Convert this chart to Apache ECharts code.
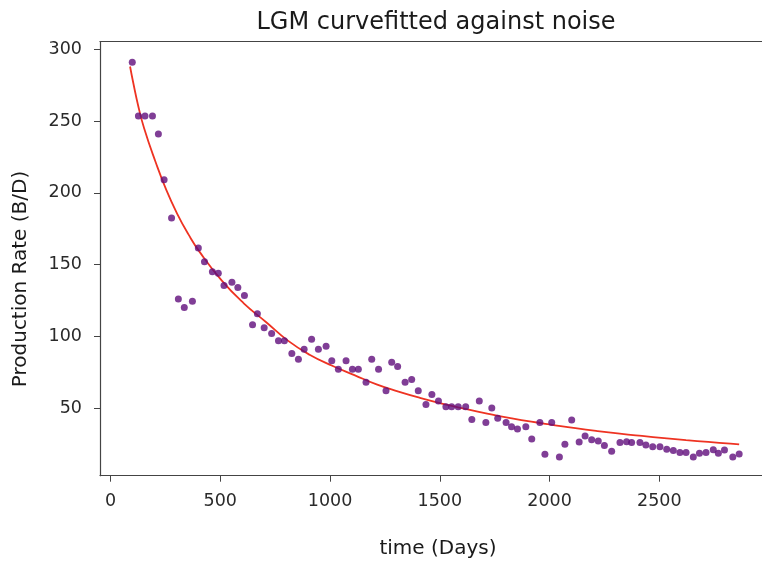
<!DOCTYPE html>
<html>
<head>
<meta charset="utf-8">
<script src="https://cdn.jsdelivr.net/npm/echarts@6/dist/echarts.min.js"></script>
<style>
html,body{margin:0;padding:0;background:#fff;}
#c{width:762px;height:567px;}
</style>
</head>
<body>
<div id="c"></div>
<script>
// Observed noisy production data
const days = [99,127,157,191,218,244,278,309,336,373,400,428,464,491,517,553,580,610,647,669,700,734,765,792,826,856,882,916,947,982,1008,1038,1073,1102,1129,1164,1190,1221,1255,1281,1308,1342,1372,1402,1437,1464,1494,1528,1554,1584,1618,1646,1680,1710,1737,1764,1802,1827,1854,1892,1919,1956,1979,2010,2045,2070,2101,2135,2162,2192,2222,2250,2283,2321,2351,2374,2412,2439,2470,2503,2534,2564,2594,2622,2655,2683,2713,2746,2769,2797,2835,2864];
const rates = [291,253.5,253.5,253.5,241,209,182.5,126,120,124.5,161.6,152,145,144,135.4,137.7,134,128.5,108,115.7,106,102,97,97,88,84,91,98,91,93,83,77,83,77,77,68,84,77,62,82,79,68,70,62,52.5,59.5,55,51,51,51,51,42,55,40,50,43,40,37,35.4,37,28.5,40,17.8,40,16,24.8,41.7,26.3,30.5,28,27,24,20,26,26.6,26,26,24.3,23,23,21.3,20.4,19,19,16,18.5,19,21,18.5,20.8,16,18];

// LGM fitted curve
const fitDays = [89,103,127,153,204,254,305,355,405,506,607,708,808,909,1010,1111,1212,1312,1413,1514,1615,1716,1816,1917,2018,2118,2219,2320,2421,2522,2622,2723,2824,2864];
const fitRates = [288,277,260,245,222,202,185,171,159,139,123,110,97,87,79.5,73,66.5,61.5,57,53,49.5,46.2,43.2,40.5,38.2,36,34,32.2,30.6,29.1,27.7,26.4,25.2,24.7];

// Tick labels
const xTicks = [0,500,1000,1500,2000,2500];
const yTicks = [50,100,150,200,250,300];

const titleText = 'LGM curvefitted against noise';
const xName = 'time (Days)';
const yName = 'Production Rate (B/D)';

const FONT = 'DejaVu Sans';
const chart = echarts.init(document.getElementById('c'), null, {renderer:'canvas'});

const scatterData = days.map((d,i)=>[d, rates[i]]);
const fitData = fitDays.map((d,i)=>[d, fitRates[i]]);

const X_MIN = -48, X_MAX = 2968;
const plain = v => String(v);
const centered = {align:'center', verticalAlign:'middle', textAlign:'center', textVerticalAlign:'middle'};
const labelStyle = Object.assign({fontFamily:FONT, fontSize:20, fill:'#1a1a1a'}, centered);

chart.setOption({
  animation:false,
  backgroundColor:'#ffffff',
  grid:{
    left:100, top:41.5, right:0, bottom:91.3, show:false
  },
  graphic:[{
    type:'text', x:436, y:23, silent:true,
    style:Object.assign({text:titleText, fontFamily:FONT, fontSize:24, fill:'#1a1a1a'}, centered)
  },{
    type:'text', x:21, y:279, rotation:Math.PI/2, silent:true,
    style:Object.assign({text:yName}, labelStyle)
  },{
    type:'text', x:438, y:549, silent:true,
    style:Object.assign({text:xName}, labelStyle)
  }],
  xAxis:[{
    type:'value', min:X_MIN, max:X_MAX, position:'bottom',
    axisLine:{show:true, onZero:false, lineStyle:{color:'#444', width:1.2}},
    axisTick:{show:true, inside:false, length:6, customValues:xTicks, lineStyle:{color:'#444'}},
    axisLabel:{fontFamily:FONT, fontSize:17.5, color:'#2a2a2a', margin:17, customValues:xTicks, formatter:plain},
    splitLine:{show:false}
  },{
    type:'value', min:X_MIN, max:X_MAX, position:'top',
    axisLine:{show:true, onZero:false, lineStyle:{color:'#444', width:1.2}},
    axisTick:{show:false}, axisLabel:{show:false}, splitLine:{show:false}
  }],
  yAxis:{
    type:'value', min:2.9, max:305.4,
    axisLine:{show:true, onZero:false, lineStyle:{color:'#444', width:1.2}},
    axisTick:{show:true, inside:false, length:6, customValues:yTicks, lineStyle:{color:'#444'}},
    axisLabel:{fontFamily:FONT, fontSize:17.5, color:'#2a2a2a', margin:18, customValues:yTicks, formatter:plain},
    splitLine:{show:false}
  },
  series:[
    {
      type:'line', data:fitData, smooth:true, showSymbol:false, xAxisIndex:0,
      lineStyle:{color:'#ee3322', width:1.8}, z:2
    },
    {
      type:'scatter', data:scatterData, symbol:'circle', symbolSize:7, xAxisIndex:0,
      itemStyle:{color:'#600e7c'}, z:3
    }
  ]
});
</script>
</body>
</html>
